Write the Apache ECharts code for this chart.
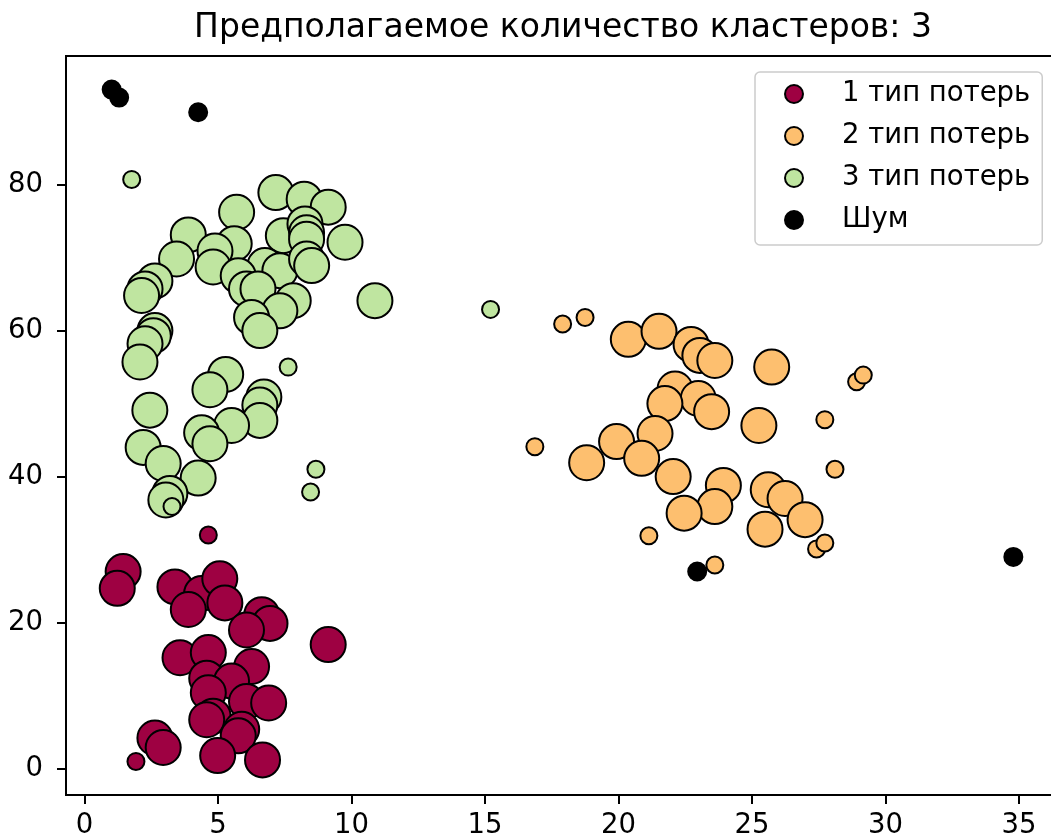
<!DOCTYPE html>
<html>
<head>
<meta charset="utf-8">
<script src="https://cdn.jsdelivr.net/npm/echarts@6/dist/echarts.min.js"></script>
<style>
html,body{margin:0;padding:0;background:#fff;}
#chart{width:1051px;height:838px;}
</style>
</head>
<body>
<div id="chart"></div>
<script>
const titleText = 'Предполагаемое количество кластеров: 3';
const seriesNames = ['1 тип потерь', '2 тип потерь', '3 тип потерь', 'Шум'];
const xTicks = [0, 5, 10, 15, 20, 25, 30, 35];
const yTicks = [0, 20, 40, 60, 80];

// Cluster 1 (core and border points)
const cluster1Core = [[1.45,27.0],[1.23,24.7],[3.39,24.9],[4.39,24.0],[5.07,26.0],[5.26,22.7],[3.89,21.8],[6.64,21.1],[6.95,19.9],[6.07,19.0],[9.13,17.0],[3.58,15.2],[4.64,15.9],[6.26,14.0],[4.58,12.4],[5.51,12.0],[4.64,10.4],[6.07,9.2],[6.9,9.0],[4.82,7.2],[4.58,6.7],[5.89,5.4],[5.76,4.5],[2.64,4.2],[2.95,2.9],[4.99,1.8],[6.67,1.2]];
const cluster1Edge = [[4.64,32.0],[1.93,1.0]];

// Cluster 2
const cluster2Core = [[20.37,58.8],[21.52,59.9],[22.72,58.1],[23.05,56.6],[23.61,55.9],[25.74,55.0],[22.12,52.0],[22.99,50.7],[21.74,50.0],[23.49,48.9],[25.26,47.0],[21.37,45.9],[19.93,44.8],[20.87,42.5],[18.81,41.9],[22.05,40.0],[23.93,38.8],[25.61,38.2],[26.24,37.0],[23.61,35.9],[22.46,35.0],[26.99,34.1],[25.49,32.8]];
const cluster2Edge = [[17.91,60.9],[18.75,61.8],[16.87,44.1],[21.14,31.9],[23.61,27.9],[27.42,30.1],[27.73,30.9],[27.73,47.8],[28.11,41.0],[28.92,53.0],[29.17,53.9]];

// Cluster 3
const cluster3Core = [[7.17,78.9],[8.23,78.0],[9.13,76.9],[5.70,76.2],[3.89,73.1],[5.61,71.9],[7.45,73.0],[8.26,74.6],[8.32,73.4],[8.32,72.5],[9.76,72.1],[4.89,70.9],[4.82,68.7],[3.45,69.8],[6.76,68.9],[5.76,67.5],[7.32,68.2],[8.32,69.8],[8.51,68.9],[2.64,66.8],[2.27,65.7],[2.14,64.8],[6.07,65.7],[6.5,65.7],[10.88,64.1],[7.82,64.1],[7.32,62.7],[6.26,61.8],[6.57,60.0],[2.64,60.0],[2.58,59.3],[2.27,58.2],[2.08,55.7],[5.29,54.0],[4.70,51.9],[6.72,50.9],[6.57,49.8],[6.57,47.7],[2.45,49.1],[5.51,47.0],[4.39,46.0],[4.70,44.5],[2.20,44.0],[2.95,41.8],[4.26,39.8],[3.2,37.7],[3.05,36.8]];
const cluster3Edge = [[1.77,80.7],[15.21,62.9],[7.63,55.0],[8.67,41.0],[8.47,37.9],[3.28,35.9]];

// Noise
const noisePoints = [[1.02,93.0],[1.30,91.9],[4.26,89.9],[22.95,27.0],[34.79,29.0]];

const colors = ['#9e0142', '#fdbf6f', '#bfe5a0', '#000000'];
const FONT = 'DejaVu Sans';

function mk(name, data, color, size) {
  return {
    type: 'scatter', name: name, data: data,
    symbol: 'circle', symbolSize: size,
    itemStyle: { color: color, borderColor: '#000', borderWidth: 2, opacity: 1 },
    emphasis: { disabled: true },
    animation: false
  };
}

const series = [
  mk(seriesNames[0], cluster1Core, colors[0], 35),
  mk(seriesNames[0], cluster1Edge, colors[0], 17),
  mk(seriesNames[1], cluster2Core, colors[1], 35),
  mk(seriesNames[1], cluster2Edge, colors[1], 17),
  mk(seriesNames[2], cluster3Core, colors[2], 35),
  mk(seriesNames[2], cluster3Edge, colors[2], 17),
  mk(seriesNames[3], noisePoints, colors[3], 18)
];

const chart = echarts.init(document.getElementById('chart'), null, { renderer: 'canvas' });
chart.setOption({
  backgroundColor: '#fff',
  animation: false,
  title: {
    text: titleText,
    left: 563,
    textAlign: 'center',
    top: 12,
    padding: 0,
    textStyle: { fontFamily: FONT, fontSize: 33, fontWeight: 'normal', color: '#000' }
  },
  legend: {
    orient: 'vertical',
    left: 755,
    top: 72,
    padding: [8, 12, 11, 29],
    itemGap: 14,
    itemWidth: 18,
    itemHeight: 18,
    data: seriesNames.map((n, i) => ({ name: n, icon: 'circle', itemStyle: { color: colors[i], borderColor: '#000', borderWidth: 2 } })),
    textStyle: { fontFamily: FONT, fontSize: 27.5, color: '#000', lineHeight: 28, padding: [0, 0, 0, 34] },
    borderColor: '#cccccc',
    borderWidth: 1.5,
    borderRadius: 5,
    backgroundColor: 'rgba(255,255,255,0.8)',
    selectedMode: false
  },
  grid: {
    left: 66, top: 56, right: -8, bottom: 43,
    containLabel: false,
    outerBoundsMode: 'none',
    show: true, borderColor: '#000', borderWidth: 2, backgroundColor: 'transparent'
  },
  xAxis: {
    type: 'value', min: -0.69, max: 36.5,
    axisLine: { show: true, onZero: false, lineStyle: { color: '#000', width: 2 } },
    axisTick: { show: true, length: 9, inside: false, customValues: xTicks, lineStyle: { color: '#000', width: 2 } },
    axisLabel: { customValues: xTicks, margin: 17, fontFamily: FONT, fontSize: 27.5, color: '#000' },
    splitLine: { show: false }
  },
  yAxis: {
    type: 'value', min: -3.6, max: 97.6,
    axisLine: { show: true, onZero: false, lineStyle: { color: '#000', width: 2 } },
    axisTick: { show: true, length: 9, inside: false, customValues: yTicks, lineStyle: { color: '#000', width: 2 } },
    axisLabel: { customValues: yTicks, margin: 23, fontFamily: FONT, fontSize: 27.5, color: '#000' },
    splitLine: { show: false }
  },
  series: series
});
</script>
</body>
</html>
